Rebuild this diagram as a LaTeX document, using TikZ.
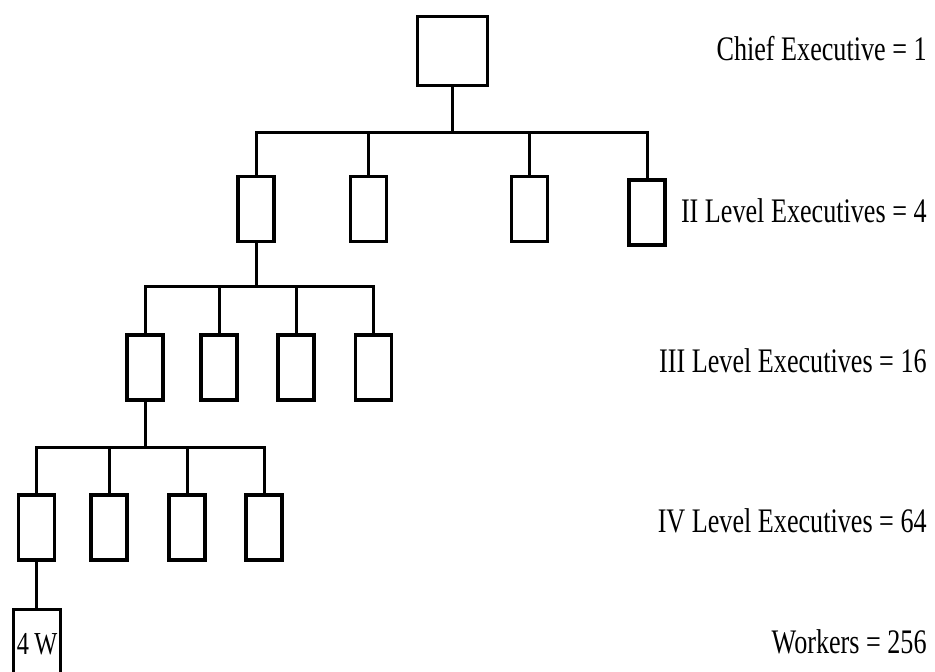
\documentclass[tikz,border=0pt]{standalone}
\usepackage{fontspec}
\setmainfont[FakeStretch=0.76]{Liberation Serif}
\usepackage{tikz}
\usetikzlibrary{positioning}
\tikzset{%
	unit/.style   = {draw, rectangle, line width=1.7pt, minimum width=18pt, minimum height=32.5pt, inner sep=0pt},
	chief/.style  = {unit, minimum width=35pt, minimum height=34.5pt},
	worker/.style = {unit, minimum width=23.5pt, minimum height=35pt, font=\fontsize{16}{19}\selectfont},
	count/.style  = {anchor=base east, inner sep=0pt, font=\fontsize{17.2}{20}\selectfont},
	link/.style   = {line width=1.5pt},
}

\begin{document}
\begin{tikzpicture}[x=0.5pt,y=-0.5pt]
	\useasboundingbox (0,0) rectangle (935,672);
	% hierarchy
	\node[chief] (ce) at (452.5,51) {};
	\node[unit] (a1) at (256,209) {};
	\node[unit] (a2) at (368.5,209) {};
	\node[unit] (a3) at (529.5,209) {};
	\node[unit] (a4) at (647,212.5) {};
	\node[unit] (b1) at (145,367.5) {};
	\node[unit] (b2) at (219,367.5) {};
	\node[unit] (b3) at (296,367.5) {};
	\node[unit] (b4) at (373.5,367.5) {};
	\node[unit] (c1) at (36.5,527.5) {};
	\node[unit] (c2) at (109,527.5) {};
	\node[unit] (c3) at (187,527.5) {};
	\node[unit] (c4) at (264,527.5) {};
	\node[worker] (w) at (37,644.5) {4\,W};
	% joints on the bars
	\coordinate (j0) at (452.5,133);
	\coordinate (j1) at (256,287);
	\coordinate (j2) at (145,448);
	\draw[link] (ce) -- (j0) (j0) -| (a1) (j0) -| (a2) (j0) -| (a3) (j0) -| (a4);
	\draw[link] (a1) -- (j1) (j1) -| (b1) (j1) -| (b2) (j1) -| (b3) (j1) -| (b4);
	\draw[link] (b1) -- (j2) (j2) -| (c1) (j2) -| (c2) (j2) -| (c3) (j2) -| (c4);
	\draw[link] (c1) -- (c1 |- w.north);
	% counts
	\node[count] (l0) at (927,61) {Chief Executive = 1};
	\node[count] (l1) at (927,223) {II Level Executives = 4};
	\node[count] (l2) at (927,373) {III Level Executives = 16};
	\node[count] (l3) at (927,532) {IV Level Executives = 64};
	\node[count] (l4) at (927,653) {Workers = 256};
\end{tikzpicture}
\end{document}
